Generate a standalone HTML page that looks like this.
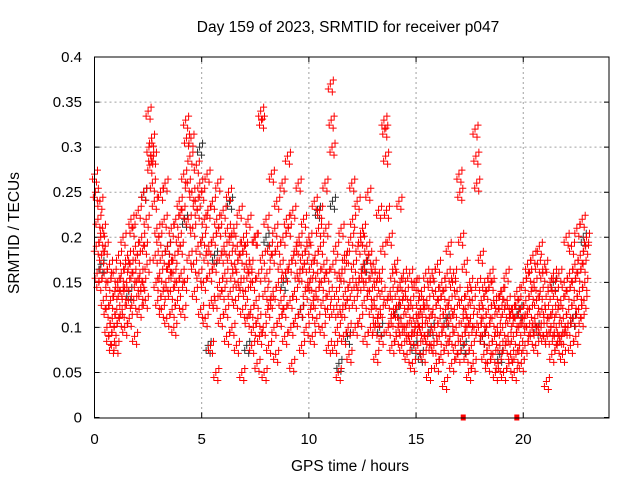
<!DOCTYPE html>
<html><head><meta charset="utf-8"><style>
body{margin:0;background:#fff;}
svg{display:block;font-family:"Liberation Sans",sans-serif;}
</style></head><body>
<svg id="chart" width="640" height="480" viewBox="0 0 640 480">
<rect width="640" height="480" fill="#fff"/>
<text x="348" y="32" text-anchor="middle" font-size="15.5">Day 159 of 2023, SRMTID for receiver p047</text>
<text x="350" y="471" text-anchor="middle" font-size="15.5">GPS time / hours</text>
<text transform="translate(19,233) rotate(-90)" text-anchor="middle" font-size="15.5">SRMTID / TECUs</text>
<g id="grid"></g>
<g id="ticks"></g>
<g id="black"></g>
<g id="red"></g>
<rect x="94.5" y="57" width="514.5" height="361" fill="none" stroke="#000" stroke-width="1"/>
</svg>
<script>
const xTicks=[0,5,10,15,20];
const yTicks=[0,0.05,0.1,0.15,0.2,0.25,0.3,0.35,0.4];
const yTickLabels=["0","0.05","0.1","0.15","0.2","0.25","0.3","0.35","0.4"];
const binWidth=0.25;
const redBins=[
[.27,.25,.19,.16,.22,.15],[.24,.20,.18,.21,.13,.16],[.19,.12,.10,.15,.09,.17],[.13,.08,.11,.16,.10,.14],
[.08,.12,.15,.18,.11,.14],[.16,.12,.20,.14,.10,.17],[.15,.18,.13,.11,.17,.22],[.21,.16,.13,.09,.19,.15],
[.18,.23,.12,.16,.14,.20],[.15,.25,.19,.13,.22,.17],[.34,.30,.28,.29,.31,.26],[.29,.24,.18,.15,.21,.13],
[.20,.16,.25,.12,.18,.14],[.22,.26,.15,.11,.19,.17],[.17,.14,.21,.12,.16,.10],[.18,.22,.15,.13,.20,.24],
[.19,.16,.23,.12,.27,.15],[.33,.31,.26,.22,.18,.29],[.31,.25,.21,.17,.14,.24],[.28,.23,.19,.16,.26,.12],
[.25,.20,.15,.22,.11,.18],[.27,.23,.19,.16,.08,.13],[.24,.20,.17,.13,.05,.22],[.26,.21,.15,.11,.18,.14],
[.23,.19,.16,.12,.09,.21],[.25,.18,.14,.20,.10,.16],[.21,.17,.13,.08,.19,.15],[.23,.18,.15,.05,.12,.20],
[.19,.14,.17,.11,.22,.16],[.17,.12,.08,.15,.10,.20],[.20,.13,.06,.11,.16,.09],[.34,.33,.18,.10,.05,.14],
[.22,.16,.12,.08,.19,.13],[.27,.18,.14,.10,.21,.07],[.24,.19,.15,.11,.17,.13],[.26,.20,.12,.09,.16,.22],
[.29,.21,.17,.13,.10,.06],[.23,.18,.14,.11,.19,.16],[.26,.20,.16,.12,.08,.18],[.22,.17,.14,.10,.19,.15],
[.20,.15,.12,.17,.09,.13],[.24,.18,.14,.11,.16,.21],[.23,.19,.15,.10,.13,.17],[.26,.21,.16,.12,.08,.14],
[.37,.33,.30,.17,.12,.08],[.19,.14,.10,.05,.16,.12],[.21,.16,.12,.09,.18,.14],[.18,.13,.10,.07,.15,.20],
[.26,.22,.17,.13,.10,.15],[.24,.19,.15,.11,.20,.16],[.21,.17,.13,.09,.15,.19],[.25,.18,.14,.10,.12,.16],
[.17,.13,.10,.07,.15,.11],[.23,.16,.12,.09,.14,.19],[.33,.32,.29,.23,.13,.10],[.20,.14,.11,.08,.16,.12],
[.17,.12,.09,.14,.10,.24],[.15,.11,.08,.13,.16,.10],[.14,.10,.07,.12,.09,.16],[.13,.09,.06,.11,.15,.10],
[.15,.11,.08,.13,.10,.12],[.14,.10,.07,.12,.09,.16],[.13,.09,.05,.11,.15,.08],[.16,.12,.08,.10,.14,.06],
[.17,.13,.09,.11,.07,.15],[.14,.10,.04,.12,.08,.16],[.19,.13,.09,.11,.06,.15],[.16,.12,.08,.10,.14,.07],
[.27,.25,.20,.13,.09,.11],[.17,.12,.07,.10,.14,.05],[.15,.11,.08,.13,.06,.10],[.32,.29,.26,.15,.10,.12],
[.18,.13,.09,.11,.07,.15],[.14,.10,.06,.12,.08,.16],[.15,.11,.07,.13,.09,.05],[.13,.10,.06,.12,.08,.14],
[.14,.10,.05,.12,.08,.16],[.13,.09,.06,.11,.07,.12],[.12,.09,.05,.11,.07,.14],[.13,.10,.08,.12,.06,.11],
[.15,.11,.08,.13,.10,.17],[.16,.12,.09,.14,.10,.18],[.15,.11,.08,.13,.17,.10],[.19,.14,.10,.12,.16,.09],
[.17,.12,.04,.09,.14,.11],[.15,.10,.07,.12,.16,.09],[.14,.10,.08,.12,.16,.09],[.13,.09,.07,.11,.15,.10],
[.20,.14,.10,.12,.16,.08],[.19,.15,.11,.13,.17,.09],[.21,.16,.12,.14,.18,.11],[.22,.17,.13,.15,.19,.20]
];
const blackHours=[0.3,1.6,2.3,3.4,4.2,4.9,5.6,6.3,7.1,8.0,8.8,9.6,10.4,11.1,11.8,12.6,13.3,14.1,14.9,15.7,16.4,17.2,18.1,18.9,19.8,20.6,21.4,22.3,22.8,5.3,11.4,15.2];
const blackValues=[0.17,0.14,0.25,0.19,0.22,0.30,0.18,0.24,0.08,0.20,0.15,0.12,0.23,0.24,0.09,0.17,0.10,0.12,0.08,0.10,0.11,0.08,0.09,0.07,0.12,0.10,0.15,0.11,0.20,0.08,0.06,0.07];
const zeroHours=[17.2,19.7];

const X0=94.5,X1=609,Y0=417.5,Y1=57;
const xs=h=>X0+(X1-X0)*h/24;
const ys=v=>Y0-(Y0-Y1)*v/0.4;
const NS="http://www.w3.org/2000/svg";
function mk(tag,attrs,parent){const e=document.createElementNS(NS,tag);for(const k in attrs)e.setAttribute(k,attrs[k]);parent.appendChild(e);return e;}
const grid=document.getElementById('grid'),ticks=document.getElementById('ticks');
xTicks.forEach(t=>{
  const x=xs(t);
  if(t>0){const g=mk('line',{x1:x,x2:x,y1:Y1,y2:Y0,stroke:'#a0a0a0','stroke-dasharray':'2,3'},grid);
  
  }
  const tk=mk('path',{d:`M${x},${Y0}v-5M${x},${Y1}v5`,stroke:'#000'},ticks);
  
  
  const lb=mk('text',{x:x,y:444,'text-anchor':'middle','font-size':'15'},ticks);lb.textContent=String(t);
  
  
});
yTicks.forEach((t,i)=>{
  const y=ys(t);
  if(t>0&&t<0.4){const g=mk('line',{x1:X0,x2:X1,y1:y,y2:y,stroke:'#a0a0a0','stroke-dasharray':'2,3'},grid);
  
  }
  const tk=mk('path',{d:`M${X0},${y}h5M${X1},${y}h-5`,stroke:'#000'},ticks);
  
  
  const lb=mk('text',{x:82,y:y+5,'text-anchor':'end','font-size':'15'},ticks);lb.textContent=yTickLabels[i];
  
  
});
// each sample drawn as a small cluster of plus glyphs (marker style, mimicking dense multi-satellite tracks)
const glyph=[[0,0],[3,-4],[-2,5],[2,8]];
function plus(h,v,color,parent){
  const x=xs(h),y=ys(v);
  let d='';
  glyph.forEach(([dx,dy])=>{d+=`M${x+dx-3.5},${y+dy}h7M${x+dx},${y+dy-3.5}v7`;});
  return mk('path',{d:d,stroke:color,'stroke-width':1},parent);
}
const black=document.getElementById('black'),red=document.getElementById('red');
blackHours.forEach((h,i)=>{
  const p=plus(h,blackValues[i],'#333',black);
  
  
});
redBins.forEach((vals,b)=>{
  vals.forEach((v,j)=>{
    const p=plus(b*binWidth+j*0.04,v,'#ff0000',red);
    
    
  });
});
zeroHours.forEach(h=>{
  const r=mk('rect',{x:xs(h)-2.5,y:ys(0)-3,width:5,height:6,fill:'#ff0000'},red);
  
  
});
</script>
</body></html>
